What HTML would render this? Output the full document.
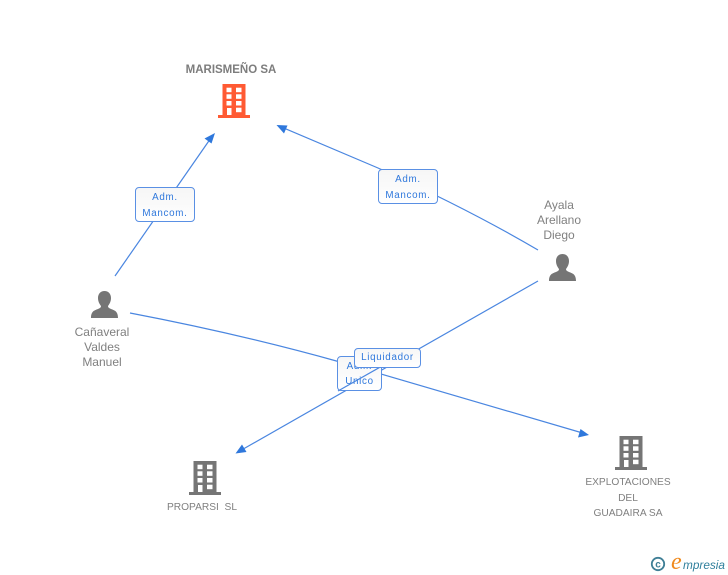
<!DOCTYPE html>
<html>
<head>
<meta charset="utf-8">
<style>
html,body{margin:0;padding:0;background:#fff}
#p{position:relative;width:728px;height:575px;overflow:hidden;font-family:"Liberation Sans",sans-serif}
svg{position:absolute;left:0;top:0}
.t{position:absolute;text-align:center;color:#808080;font-size:12px;line-height:15px;white-space:nowrap}
.s{font-size:10.200px}
.b{position:absolute;box-sizing:border-box;background:linear-gradient(#f6f6f6,#fff);border:1.500px solid #5a90e4;border-radius:4px;color:#2f78dc;text-align:center;font-size:9.800px;letter-spacing:.7px;white-space:nowrap}
</style>
</head>
<body>
<div id="p">
<svg width="728" height="575" viewBox="0 0 728 575">
<defs>
<g id="bld">
<path d="M4.500 0H27.500V31H32V34H0V31H4.500Z"/>
<g fill="#fff">
<rect x="8.500" y="3.700" width="5" height="4.500"/><rect x="18" y="3.700" width="5.500" height="4.500"/>
<rect x="8.500" y="10.300" width="5" height="4.500"/><rect x="18" y="10.300" width="5.500" height="4.500"/>
<rect x="8.500" y="17" width="5" height="4.500"/><rect x="18" y="17" width="5.500" height="4.500"/>
<rect x="9" y="24" width="4.500" height="7"/><rect x="18" y="23.700" width="5.500" height="4.500"/>
</g>
</g>
<path id="per" d="M13.500 0C17.500 0 20 3 20 7C20 10.500 18.500 13 17 15C17 16.500 18 17 20 18C24 19.500 27 20.500 27 27H0C0 20.500 3 19.500 7 18C9 17 10 16.500 10 15C8.500 13 7 10.500 7 7C7 3 9.500 0 13.500 0Z"/>
</defs>
<g fill="none" stroke="#4a86e0" stroke-width="1.200">
<path d="M115 276L213 135"/>
<path d="M538 250Q470 210 378 168L279 126"/>
<path d="M130 313Q240 334 340 362L586 434"/>
<path d="M538 281L238 452"/>
</g>
<g fill="#2f78dc">
<path d="M215 133L211.500 143.500L204.500 138.500Z"/>
<path d="M276.500 125L287.500 125.500L284 133.500Z"/>
<path d="M589 435L578 437.500L580.500 429Z"/>
<path d="M235.500 453.500L242 444.500L246.500 452Z"/>
</g>
<use href="#bld" x="218" y="84" fill="#ff5a33"/>
<use href="#bld" x="615" y="436" fill="#757575"/>
<use href="#bld" x="189" y="461" fill="#757575"/>
<use href="#per" x="91" y="291" fill="#757575"/>
<use href="#per" x="549" y="254" fill="#757575"/>
<circle cx="658" cy="564" r="6.200" fill="none" stroke="#3f7f96" stroke-width="1.800"/>
<text x="658" y="567.500" font-family="Liberation Sans" font-size="10" font-weight="bold" fill="#3f7f96" text-anchor="middle">c</text>
<text x="671" y="569" font-family="Liberation Serif" font-size="24" font-style="italic" fill="#f08a1d">e</text>
<text x="683" y="569" font-family="Liberation Sans" font-size="12" font-style="italic" fill="#2f7f9c" textLength="42" lengthAdjust="spacingAndGlyphs">mpresia</text>
</svg>

<div class="t" style="left:171px;top:63px;width:120px;font-weight:bold;font-size:11.500px;color:#7d7d7d">MARISMEÑO SA</div>
<div class="t" style="left:52px;top:325px;width:100px">Cañaveral<br>Valdes<br>Manuel</div>
<div class="t" style="left:509px;top:198px;width:100px">Ayala<br>Arellano<br>Diego</div>
<div class="t s" style="left:152px;top:500px;width:100px">PROPARSI&nbsp; SL</div>
<div class="t s" style="left:568px;top:475px;width:120px;line-height:15.500px">EXPLOTACIONES<br>DEL<br>GUADAIRA SA</div>

<div class="b" style="left:135px;top:187px;width:60px;height:35px;line-height:15.500px;padding-top:2px">Adm.<br>Mancom.</div>
<div class="b" style="left:378px;top:169px;width:60px;height:35px;line-height:15.500px;padding-top:2px">Adm.<br>Mancom.</div>
<div class="b" style="left:337px;top:356px;width:45px;height:35px;line-height:15px;padding-top:2px">Adm.<br>Unico</div>
<svg width="728" height="575" viewBox="0 0 728 575" style="pointer-events:none"><path d="M382 366L338 391" stroke="#4a86e0" stroke-width="1.200" fill="none"/></svg>
<div class="b" style="left:354px;top:348px;width:67px;height:20px;line-height:17px">Liquidador</div>
</div>
</body>
</html>
